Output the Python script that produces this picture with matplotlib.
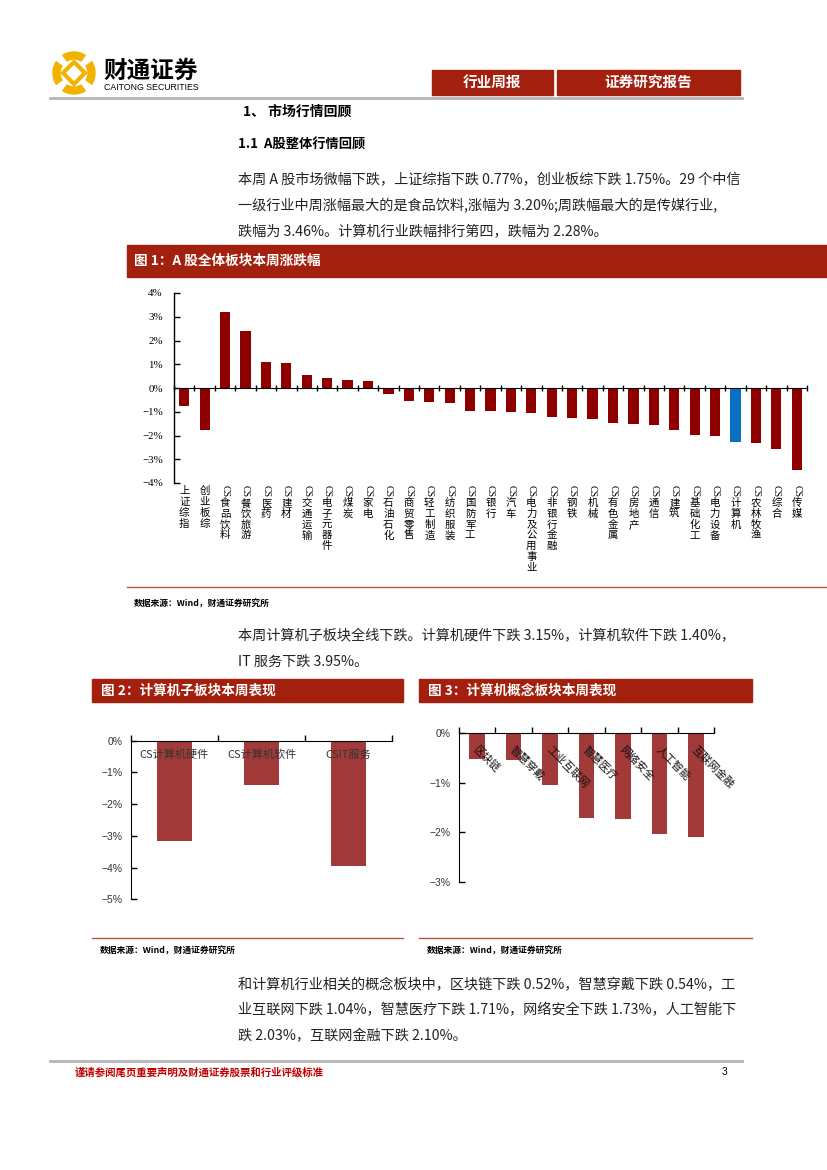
import numpy as np
import matplotlib
matplotlib.use('Agg')
import matplotlib.pyplot as plt
from matplotlib.patches import Rectangle, Wedge, Polygon
from matplotlib.transforms import blended_transform_factory

plt.rcParams['font.family'] = ['Noto Sans CJK SC', 'DejaVu Sans']

# 图1 数据
cats1 = ['上证综指', '创业板综', 'CS食品饮料', 'CS餐饮旅游', 'CS医药', 'CS建材', 'CS交通运输',
         'CS电子元器件', 'CS煤炭', 'CS家电', 'CS石油石化', 'CS商贸零售', 'CS轻工制造', 'CS纺织服装',
         'CS国防军工', 'CS银行', 'CS汽车', 'CS电力及公用事业', 'CS非银行金融', 'CS钢铁', 'CS机械',
         'CS有色金属', 'CS房地产', 'CS通信', 'CS建筑', 'CS基础化工', 'CS电力设备', 'CS计算机',
         'CS农林牧渔', 'CS综合', 'CS传媒']
vals1 = [-0.77, -1.75, 3.20, 2.42, 1.11, 1.06, 0.54, 0.41, 0.33, 0.28, -0.24, -0.55, -0.60, -0.64,
         -0.95, -0.95, -1.00, -1.04, -1.21, -1.25, -1.29, -1.47, -1.52, -1.56, -1.78, -1.96, -2.04,
         -2.28, -2.30, -2.57, -3.46]
highlight = 'CS计算机'
yticks1 = [-4, -3, -2, -1, 0, 1, 2, 3, 4]

# 图2 数据
cats2 = ['CS计算机硬件', 'CS计算机软件', 'CSIT服务']
vals2 = [-3.15, -1.40, -3.95]
yticks2 = [-5, -4, -3, -2, -1, 0]

# 图3 数据
cats3 = ['区块链', '智慧穿戴', '工业互联网', '智慧医疗', '网络安全', '人工智能', '互联网金融']
vals3 = [-0.52, -0.54, -1.04, -1.71, -1.73, -2.03, -2.10]
yticks3 = [-3, -2, -1, 0]

para1 = ['本周 A 股市场微幅下跌，上证综指下跌 0.77%，创业板综下跌 1.75%。29 个中信',
         '一级行业中周涨幅最大的是食品饮料,涨幅为 3.20%;周跌幅最大的是传媒行业,',
         '跌幅为 3.46%。计算机行业跌幅排行第四，跌幅为 2.28%。']
para2 = ['本周计算机子板块全线下跌。计算机硬件下跌 3.15%，计算机软件下跌 1.40%，',
         'IT 服务下跌 3.95%。']
para3 = ['和计算机行业相关的概念板块中，区块链下跌 0.52%，智慧穿戴下跌 0.54%，工',
         '业互联网下跌 1.04%，智慧医疗下跌 1.71%，网络安全下跌 1.73%，人工智能下',
         '跌 2.03%，互联网金融下跌 2.10%。']

RED = '#A3200F'
BAR1 = '#8E0000'
BLUE = '#0B6FC4'
BAR23 = '#A33A3A'
W, H = 827, 1170
PFS = 10.2


def pct(v):
    return f'{v:.0f}%'.replace('-', '−')


def axpos(x0, y0, x1, y1):
    return [x0 / W, 1 - y1 / H, (x1 - x0) / W, (y1 - y0) / H]


fig = plt.figure(figsize=(8.27, 11.70), dpi=100)

# 页面层（像素坐标）
page = fig.add_axes([0, 0, 1, 1])
page.set_xlim(0, W)
page.set_ylim(H, 0)
page.axis('off')

# logo
gold = '#F2B200'
page.add_patch(Wedge((74, 73), 21, 0, 360, width=7, color=gold))
for a in [45, 135, 225, 315]:
    page.add_patch(Wedge((74, 73), 22, a - 9, a + 9, width=9, color='white'))
page.add_patch(Polygon([(74, 62), (85, 73), (74, 84), (63, 73)], closed=True, fill=False,
                       edgecolor=gold, lw=3))
page.text(103, 71, '财通证券', fontsize=17, fontweight='bold', va='center', ha='left')
page.text(104, 87, 'CAITONG SECURITIES', fontsize=6.3, va='center', ha='left',
          family=['Liberation Sans'])

# 顶部标签
page.add_patch(Rectangle((432, 70), 121, 25, color=RED))
page.add_patch(Rectangle((557, 70), 183, 25, color=RED))
page.text(492, 82, '行业周报', color='white', fontsize=10.5, fontweight='bold', ha='center', va='center')
page.text(648, 82, '证券研究报告', color='white', fontsize=10.5, fontweight='bold', ha='center', va='center')
page.plot([50, 742], [98, 98], color='#B4B4B4', lw=2)

page.text(243, 112, '1、 市场行情回顾', fontsize=10, fontweight='bold', va='center')
page.text(238, 145, '1.1  A股整体行情回顾', fontsize=9.5, fontweight='bold', va='center')

for i, line in enumerate(para1):
    page.text(238, 180 + i * 25.5, line, fontsize=PFS, va='center', color='#222222')

# 图1 标题栏
page.add_patch(Rectangle((127, 245), 700, 32, color=RED))
page.text(134, 261, '图 1：A 股全体板块本周涨跌幅', color='white', fontsize=9.8, fontweight='bold', va='center')
page.plot([127, 827], [587, 587], color='#B0583F', lw=1)
page.text(134, 604, '数据来源：Wind，财通证券研究所', fontsize=6.3, fontweight='bold', va='center')

for i, line in enumerate(para2):
    page.text(238, 636 + i * 25.5, line, fontsize=PFS, va='center', color='#222222')

# 图2/图3 标题栏
page.add_patch(Rectangle((92, 679), 311, 23, color=RED))
page.text(101, 690.5, '图 2：计算机子板块本周表现', color='white', fontsize=9.8, fontweight='bold', va='center')
page.add_patch(Rectangle((419, 679), 333, 23, color=RED))
page.text(428, 690.5, '图 3：计算机概念板块本周表现', color='white', fontsize=9.8, fontweight='bold', va='center')
page.plot([92, 403], [938, 938], color='#B0583F', lw=1)
page.plot([419, 752], [938, 938], color='#B0583F', lw=1)
page.text(100, 951, '数据来源：Wind，财通证券研究所', fontsize=6.3, fontweight='bold', va='center')
page.text(427, 951, '数据来源：Wind，财通证券研究所', fontsize=6.3, fontweight='bold', va='center')

for i, line in enumerate(para3):
    page.text(238, 985 + i * 25.5, line, fontsize=PFS, va='center', color='#222222')

# 页脚
page.plot([50, 742], [1061, 1061], color='#B4B4B4', lw=2)
page.text(75, 1072, '谨请参阅尾页重要声明及财通证券股票和行业评级标准', color='#C00000',
          fontsize=7.5, fontweight='bold', va='center')
page.text(722, 1072, '3', fontsize=7.5, va='center', family=['Liberation Sans'])

# ---------- 图1 ----------
ax1 = fig.add_axes(axpos(174, 293, 807, 483))
x1 = np.arange(len(cats1))
colors1 = [BLUE if c == highlight else BAR1 for c in cats1]
ax1.bar(x1, vals1, width=0.5, color=colors1)
ax1.set_xlim(-0.5, len(cats1) - 0.5)
ax1.set_ylim(-4, 4)
ax1.set_yticks(yticks1)
ax1.set_yticklabels([pct(v) for v in yticks1], family=['Liberation Serif'], fontsize=7.8)
ax1.spines['top'].set_visible(False)
ax1.spines['right'].set_visible(False)
ax1.spines['bottom'].set_position(('data', 0))
ax1.spines['left'].set_linewidth(1)
ax1.set_xticks(np.arange(len(cats1) + 1) - 0.5)
ax1.set_xticklabels([])
ax1.tick_params(axis='x', direction='inout', length=5, width=1)
ax1.tick_params(axis='y', direction='in', length=4, width=1, pad=8)
tr1 = blended_transform_factory(ax1.transData, ax1.transAxes)
for i, c in enumerate(cats1):
    rest = c
    top = -3 / 190
    if c.startswith('CS'):
        ax1.text(i, -2 / 190, 'CS', rotation=-90, ha='center', va='top', fontsize=7.2,
                 family=['Liberation Serif'], transform=tr1)
        rest = c[2:]
        top = -15 / 190
    ax1.text(i, top, '\n'.join(rest), ha='center', va='top', fontsize=7.5,
             linespacing=1.1, transform=tr1)

# ---------- 图2 ----------
ax2 = fig.add_axes(axpos(131, 740.7, 392, 899.3))
x2 = np.arange(len(cats2))
ax2.bar(x2, vals2, width=0.4, color=BAR23)
ax2.set_xlim(-0.5, len(cats2) - 0.5)
ax2.set_ylim(-5, 0)
ax2.set_yticks(yticks2)
ax2.set_yticklabels([pct(v) for v in yticks2], family=['Liberation Sans'], fontsize=7.5, color='#333333')
ax2.spines['bottom'].set_visible(False)
ax2.spines['right'].set_visible(False)
ax2.xaxis.tick_top()
ax2.set_xticks(np.arange(len(cats2) + 1) - 0.5)
ax2.set_xticklabels([])
ax2.tick_params(axis='x', direction='out', length=4, width=1)
ax2.tick_params(axis='y', direction='in', length=4, width=1, pad=6)
for i, c in enumerate(cats2):
    ax2.text(i, -0.45, c, ha='center', va='center', fontsize=8, color='#333333')

# ---------- 图3 ----------
ax3 = fig.add_axes(axpos(459, 733.3, 714, 881.7))
x3 = np.arange(len(cats3))
ax3.bar(x3, vals3, width=0.43, color=BAR23)
ax3.set_xlim(-0.5, len(cats3) - 0.5)
ax3.set_ylim(-3, 0)
ax3.set_yticks(yticks3)
ax3.set_yticklabels([pct(v) for v in yticks3], family=['Liberation Sans'], fontsize=7.5, color='#333333')
ax3.spines['bottom'].set_visible(False)
ax3.spines['right'].set_visible(False)
ax3.xaxis.tick_top()
ax3.set_xticks(np.arange(len(cats3) + 1) - 0.5)
ax3.set_xticklabels([])
ax3.tick_params(axis='x', direction='out', length=4, width=1)
ax3.tick_params(axis='y', direction='in', length=4, width=1, pad=6)
for i, c in enumerate(cats3):
    ax3.text(i - 0.05, -0.3, c, rotation=-45, rotation_mode='anchor', ha='left', va='center',
             fontsize=7.8, color='#111111')

fig.savefig('out.png', dpi=100)
